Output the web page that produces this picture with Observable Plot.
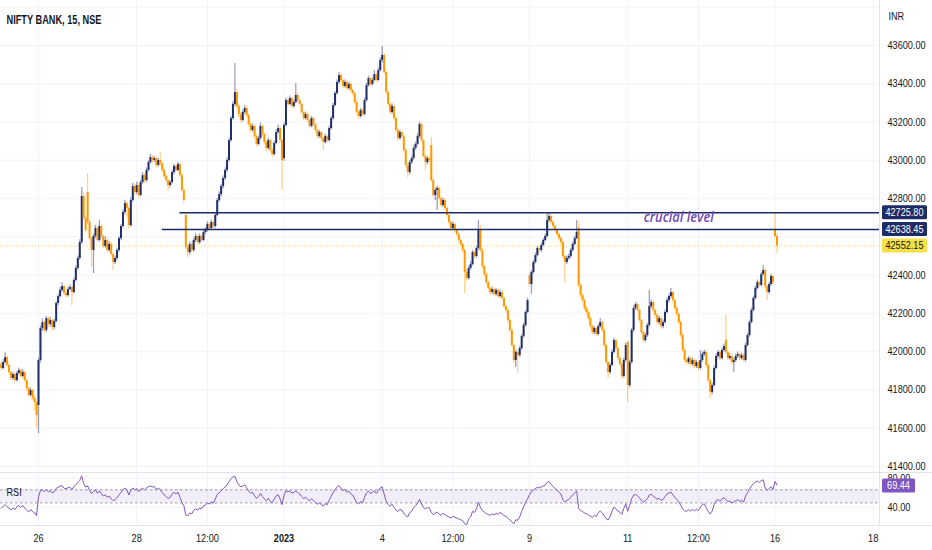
<!DOCTYPE html>
<html><head><meta charset="utf-8">
<script src="https://cdn.jsdelivr.net/npm/d3@7"></script>
<script src="https://cdn.jsdelivr.net/npm/@observablehq/plot@0.6"></script>
<style>
body{margin:0;background:#fff;}
#wrap{width:932px;height:550px;overflow:hidden;background:#fff;}
#wrap svg{display:block;}
</style></head><body><div id="wrap"></div>
<script>
// ---------- data ----------
const title = "NIFTY BANK, 15, NSE";
const currency = "INR";
const firstBar = -19; // bars of 23 Dec before the 26 Dec session
const open = [
41935,41912,41943,41969,41928,41891,41860,41880,41849,41886,41901,41870,41891,41849,41807,41771,41797,41755,41734,
41719,41954,42121,42152,42111,42173,42142,42163,42126,42158,42252,42288,42320,42340,42304,42293,42325,42335,42309,42372,42435,42487,42570,42811,42696,
42832,42675,42591,42529,42602,42644,42581,42654,42602,42550,42581,42529,42560,42508,42466,42487,42529,42591,42654,42727,42774,42748,42659,42790,42863,
42832,42868,42816,42884,42920,42894,42947,42988,43015,42999,43009,42973,42999,42983,42947,42915,42894,42868,42884,42936,42968,42947,42978,42920,42842,
42712,42544,42518,42560,42529,42581,42602,42570,42602,42581,42623,42633,42665,42644,42675,42654,42712,42790,42821,42863,42905,42947,42999,43103,43218,
43292,43354,43281,43239,43208,43250,43271,43234,43187,43156,43177,43124,43083,43114,43177,43135,43093,43062,43103,43051,43030,43088,43145,43166,43103,
43009,43182,43312,43292,43323,43281,43302,43339,43312,43292,43250,43218,43239,43208,43177,43218,43187,43156,43124,43145,43114,43093,43124,43103,43166,
43218,43286,43349,43407,43443,43417,43386,43407,43375,43396,43365,43349,43302,43250,43229,43260,43239,43312,43391,43427,43396,43417,43448,43417,43469,
43522,43548,43459,43354,43292,43250,43281,43218,43156,43114,43145,43124,43051,42973,42936,42988,43009,43062,43083,43124,43187,43103,43020,42988,43009,
43077,42894,42816,42842,42853,42800,42764,42790,42748,42712,42675,42644,42665,42633,42612,42581,42560,42529,42414,42382,42435,42455,42518,42497,42539,
42633,42529,42445,42403,42361,42330,42309,42325,42299,42320,42288,42309,42278,42236,42215,42163,42111,42032,41954,41996,41980,42016,42079,42137,42205,
42398,42351,42414,42466,42502,42539,42529,42555,42581,42602,42686,42706,42675,42654,42633,42612,42591,42570,42497,42466,42487,42497,42529,42560,42591,
42644,42346,42293,42267,42226,42205,42173,42131,42100,42121,42090,42131,42152,42111,42032,41943,41891,41928,41996,42058,42016,41964,41933,41870,41954,
42048,41823,41943,42111,42226,42246,42215,42163,42100,42058,42084,42137,42236,42257,42215,42189,42152,42173,42131,42152,42205,42267,42288,42309,42267,
42226,42194,42152,42084,42006,41954,41943,41964,41933,41954,41922,41943,41912,41954,41985,41996,41928,41849,41787,41823,41912,41975,41996,41964,42006,
42060,41996,41964,41975,41943,41954,41975,41985,41964,41980,41954,42032,42084,42152,42215,42278,42330,42361,42346,42403,42424,42340,42309,42351,42393,
42633,42602];
const close = [
41912,41943,41969,41928,41891,41860,41880,41849,41886,41901,41870,41891,41849,41807,41771,41797,41755,41734,41667,
41954,42121,42152,42111,42173,42142,42163,42126,42158,42252,42288,42320,42340,42304,42293,42325,42335,42309,42372,42435,42487,42570,42811,42696,42633,
42675,42591,42529,42602,42644,42581,42654,42602,42550,42581,42529,42560,42508,42466,42487,42529,42591,42654,42727,42774,42748,42659,42790,42863,42832,
42868,42816,42884,42920,42894,42947,42988,43015,42999,43009,42973,42999,42983,42947,42915,42894,42868,42884,42936,42968,42947,42978,42920,42842,42790,
42544,42518,42560,42529,42581,42602,42570,42602,42581,42623,42633,42665,42644,42675,42654,42712,42790,42821,42863,42905,42947,42999,43103,43218,43292,
43354,43281,43239,43208,43250,43271,43234,43187,43156,43177,43124,43083,43114,43177,43135,43093,43062,43103,43051,43030,43088,43145,43166,43103,42999,
43182,43312,43292,43323,43281,43302,43339,43312,43292,43250,43218,43239,43208,43177,43218,43187,43156,43124,43145,43114,43093,43124,43103,43166,43218,
43286,43349,43407,43443,43417,43386,43407,43375,43396,43365,43349,43302,43250,43229,43260,43239,43312,43391,43427,43396,43417,43448,43417,43469,43522,
43548,43459,43354,43292,43250,43281,43218,43156,43114,43145,43124,43051,42973,42936,42988,43009,43062,43083,43124,43187,43103,43020,42988,43009,42999,
42894,42816,42842,42853,42800,42764,42790,42748,42712,42675,42644,42665,42633,42612,42581,42560,42529,42414,42382,42435,42455,42518,42497,42539,42633,
42529,42445,42403,42361,42330,42309,42325,42299,42320,42288,42309,42278,42236,42215,42163,42111,42032,41954,41996,41980,42016,42079,42137,42205,42267,
42351,42414,42466,42502,42539,42529,42555,42581,42602,42686,42706,42675,42654,42633,42612,42591,42570,42497,42466,42487,42497,42529,42560,42591,42623,
42346,42293,42267,42226,42205,42173,42131,42100,42121,42090,42131,42152,42111,42032,41943,41891,41928,41996,42058,42016,41964,41933,41870,41954,42032,
41823,41943,42111,42226,42246,42215,42163,42100,42058,42084,42137,42236,42257,42215,42189,42152,42173,42131,42152,42205,42267,42288,42309,42267,42226,
42194,42152,42084,42006,41954,41943,41964,41933,41954,41922,41943,41912,41954,41985,41996,41928,41849,41787,41823,41912,41975,41996,41964,42006,42027,
41996,41964,41975,41943,41954,41975,41985,41964,41980,41954,42032,42084,42152,42215,42278,42330,42361,42346,42403,42424,42340,42309,42351,42393,42361,
42602,42552.15];
const high = [
41948,41958,41994,41978,41935,41898,41892,41886,41898,41915,41908,41905,41896,41855,41815,41810,41802,41770,41740,
41965,42135,42170,42160,42185,42180,42178,42170,42170,42262,42300,42335,42360,42350,42315,42338,42348,42342,42385,42448,42500,42585,42858,42830,42705,
42930,42690,42600,42615,42660,42652,42686,42662,42610,42600,42590,42575,42570,42515,42500,42540,42600,42665,42740,42790,42785,42760,42805,42880,42875,
42885,42878,42895,42935,42930,42960,43000,43030,43025,43020,43015,43010,43041,42990,42955,42925,42900,42895,42948,42980,42975,42990,42985,42930,42850,
42722,42555,42572,42570,42592,42615,42610,42615,42610,42635,42648,42678,42672,42688,42682,42725,42800,42835,42875,42918,42960,43012,43115,43230,43305,
43506,43370,43292,43250,43262,43285,43280,43242,43195,43190,43185,43132,43126,43195,43185,43142,43100,43115,43110,43060,43100,43160,43185,43175,43110,
43195,43325,43322,43336,43330,43315,43401,43348,43320,43300,43258,43252,43248,43215,43230,43225,43195,43165,43158,43152,43120,43135,43132,43178,43230,
43298,43360,43420,43459,43452,43425,43420,43415,43408,43404,43372,43356,43310,43258,43272,43268,43325,43402,43440,43435,43430,43469,43455,43482,43535,
43595,43558,43466,43362,43300,43295,43290,43225,43165,43158,43152,43132,43060,42982,43000,43022,43075,43095,43138,43200,43195,43110,43030,43020,43018,
43119,42905,42855,42865,42862,42810,42802,42798,42755,42720,42682,42678,42672,42640,42620,42590,42568,42536,42425,42448,42470,42530,42525,42552,42686,
42659,42538,42452,42410,42370,42338,42338,42332,42332,42328,42322,42318,42285,42245,42222,42170,42120,42040,42008,42005,42028,42090,42148,42215,42280,
42408,42425,42478,42515,42550,42548,42568,42592,42615,42722,42725,42715,42685,42662,42640,42620,42600,42578,42505,42500,42510,42540,42572,42602,42686,
42680,42355,42300,42275,42236,42212,42180,42140,42132,42128,42142,42173,42160,42120,42040,41950,41940,42008,42070,42066,42025,41972,41940,41965,42045,
42058,41955,42122,42238,42258,42255,42222,42170,42108,42096,42148,42320,42270,42265,42222,42198,42185,42180,42165,42218,42278,42300,42330,42315,42275,
42235,42202,42160,42092,42015,41965,41975,41972,41966,41962,41955,41950,42006,41998,42008,42005,41935,41856,41835,41925,41988,42008,42005,42018,42040,
42194,42005,41988,41982,41965,41988,41998,41992,41992,41988,42045,42095,42165,42228,42290,42342,42375,42370,42415,42450,42432,42348,42362,42405,42400,
42725.8,42612];
const low = [
41900,41905,41935,41918,41880,41848,41850,41838,41842,41878,41858,41862,41840,41795,41760,41765,41745,41690,41598,
41572,41940,42105,42098,42100,42125,42130,42110,42115,42150,42240,42280,42310,42290,42280,42285,42318,42240,42300,42365,42425,42478,42560,42685,42620,
42665,42580,42440,42408,42590,42570,42572,42590,42538,42540,42515,42520,42495,42424,42455,42478,42520,42580,42645,42715,42700,42640,42650,42780,42820,
42820,42805,42808,42875,42880,42885,42940,42980,42985,42990,42960,42965,42970,42935,42905,42880,42842,42855,42875,42925,42935,42940,42910,42830,42775,
42535,42492,42505,42515,42520,42570,42558,42560,42570,42575,42612,42625,42632,42635,42642,42645,42705,42780,42810,42850,42895,42938,42990,43095,43210,
43280,43270,43225,43195,43200,43240,43222,43175,43145,43148,43112,43070,43075,43105,43122,43080,43045,43055,43040,43015,43022,43080,43138,43090,42842,
42995,43175,43280,43285,43270,43272,43295,43300,43280,43238,43205,43210,43195,43165,43170,43175,43145,43112,43115,43100,43051,43085,43090,43095,43158,
43210,43278,43340,43398,43405,43375,43378,43362,43368,43352,43338,43290,43238,43215,43220,43226,43232,43305,43382,43385,43388,43410,43405,43410,43460,
43510,43448,43342,43280,43238,43240,43205,43145,43100,43105,43112,43040,42957,42910,42925,42978,43000,43052,43075,43115,43090,43008,42947,42975,42985,
42885,42805,42790,42738,42788,42752,42755,42736,42700,42662,42632,42635,42620,42600,42568,42548,42515,42304,42368,42375,42425,42448,42485,42490,42530,
42518,42432,42390,42348,42318,42295,42298,42285,42290,42275,42280,42265,42224,42202,42150,42098,42020,41940,41917,41886,41970,42008,42070,42128,42198,
42340,42300,42405,42458,42495,42515,42520,42548,42575,42595,42675,42665,42642,42620,42600,42580,42558,42485,42356,42455,42478,42488,42520,42552,42585,
42335,42280,42255,42212,42192,42160,42118,42088,42090,42078,42082,42122,42098,42020,41930,41860,41880,41920,41988,42005,41952,41920,41855,41862,41945,
41734,41812,41935,42100,42215,42202,42150,42088,42045,42048,42075,42128,42225,42202,42175,42140,42140,42118,42120,42145,42198,42255,42278,42255,42212,
42182,42140,42072,41994,41942,41930,41932,41920,41925,41910,41912,41900,41905,41945,41975,41915,41838,41755,41775,41815,41905,41965,41952,41955,41998,
41985,41952,41955,41930,41891,41945,41965,41952,41955,41942,41945,42025,42075,42145,42208,42270,42322,42335,42338,42395,42328,42267,42300,42342,42350,
42595,42513];

const tickBars   = [0, 50, 86, 125, 175, 211, 250, 300, 336, 375, 425];
const tickLabels = ["26","28","12:00","2023","4","12:00","9","11","12:00","16","18"];
const gridPrices = [41400,41600,41800,42000,42200,42400,42600,42800,43000,43200,43400,43600,43800];
const axisPrices = [41400,41600,41800,42000,42200,42400,42800,43000,43200,43400,43600];
const levels = [{price: 42725.80, fromBar: 72}, {price: 42638.45, fromBar: 63}];
const lastPrice = 42552.15;
const note = {text: "crucial level", bar: 326, price: 42700};
const rsiPeriod = 14, rsiSeedGain = 20, rsiSeedLoss = 32;
const rsiBand = {lower: 46, upper: 64};
const rsiTicks = [80, 40];
const rsiLast = 69.44;

// ---------- setup ----------
if (![open, high, low].every(a => a.length === close.length)) {
  throw new Error("length mismatch " + [open.length, high.length, low.length, close.length].join(","));
}
const FONT = '"Liberation Sans",Arial,sans-serif';
const upColor = "#1f2d6b", downColor = "#ff9800", navy = "#1d2b66";
const gridColor = "#f0f3fa", borderColor = "#e0e3eb", ink = "#131722";
const W = 932, axisW = 53;
const xDomain = [-19.35, 428.2];
const priceDomain = [41368.6, 43835.2];
const rsiDomain = [14.8, 87.9];
const labelMap = new Map(tickBars.map((b, i) => [b, tickLabels[i]]));

const bars = close.map((c, i) => ({k: i + firstBar, o: open[i], h: high[i], l: low[i], c, up: c >= open[i]}));

// RSI (Wilder) from closes
const rsiData = [];
{
  let ag = rsiSeedGain, al = rsiSeedLoss;
  for (let i = 0; i < close.length; i++) {
    const ch = i === 0 ? 0 : close[i] - close[i - 1];
    ag = (ag * (rsiPeriod - 1) + Math.max(ch, 0)) / rsiPeriod;
    al = (al * (rsiPeriod - 1) + Math.max(-ch, 0)) / rsiPeriod;
    rsiData.push({k: i + firstBar, v: 100 - 100 / (1 + ag / al)});
  }
}

// ---------- price pane ----------
const pricePlot = Plot.plot({
  width: W, height: 472, marginLeft: 0, marginRight: axisW, marginTop: 0, marginBottom: 0,
  x: {domain: xDomain, axis: null, label: null},
  y: {domain: priceDomain, axis: null, label: null},
  style: {fontFamily: FONT, fontSize: "11px", color: ink, background: "#fff"},
  marks: [
    Plot.gridX(tickBars, {stroke: gridColor, strokeOpacity: 1}),
    Plot.gridY(gridPrices, {stroke: gridColor, strokeOpacity: 1}),
    Plot.ruleY([lastPrice], {stroke: "#f3d33a", strokeDasharray: "1.2,2", strokeWidth: 1}),
    Plot.ruleX(bars, {x: "k", y1: "l", y2: "h", stroke: d => d.up ? upColor : downColor, strokeOpacity: 0.45, strokeWidth: 1.3}),
    Plot.ruleX(bars, {x: "k", y1: d => Math.min(d.o, d.c), y2: d => Math.max(d.o, d.c, Math.min(d.o, d.c) + 5),
      stroke: d => d.up ? upColor : downColor, strokeWidth: 2}),
    Plot.ruleY(levels, {y: "price", x1: "fromBar", x2: xDomain[1], stroke: navy, strokeWidth: 1.6}),
    Plot.text([note], {x: "bar", y: "price", text: "text", fontStyle: "italic", fontSize: 14, fontWeight: 600,
      fill: "#7048b6", fontFamily: '"Open Sans","Liberation Sans",sans-serif'}),
    Plot.text([title], {frameAnchor: "top-left", dx: 6, dy: 15, text: d => d, textAnchor: "start",
      fontWeight: "bold", fontSize: 12.5, fill: ink}),
    Plot.text([currency], {frameAnchor: "top-right", dx: 9, dy: 12, text: d => d, textAnchor: "start", fill: ink}),
    Plot.axisY(axisPrices, {anchor: "right", tickSize: 0, tickPadding: 8, tickFormat: d => d.toFixed(2), fill: ink})
  ]
});

// ---------- RSI pane ----------
const rsiPlot = Plot.plot({
  width: W, height: 78, marginLeft: 0, marginRight: axisW, marginTop: 0, marginBottom: 25,
  x: {domain: xDomain, label: null},
  y: {domain: rsiDomain, axis: null, label: null},
  style: {fontFamily: FONT, fontSize: "11px", color: ink, background: "#fff"},
  marks: [
    Plot.gridX(tickBars, {stroke: gridColor, strokeOpacity: 1}),
    Plot.gridY(rsiTicks, {stroke: gridColor, strokeOpacity: 1}),
    Plot.rect([rsiBand], {x1: xDomain[0], x2: xDomain[1], y1: "lower", y2: "upper", fill: "#7e57c2", fillOpacity: 0.1}),
    Plot.ruleY([rsiBand.upper, rsiBand.lower], {stroke: "#9598a1", strokeDasharray: "2.5,2.5", strokeWidth: 1}),
    Plot.lineY(rsiData, {x: "k", y: "v", stroke: "#7e57c2", strokeWidth: 1}),
    Plot.text(["RSI"], {frameAnchor: "top-left", dx: 6, dy: 16, text: d => d, textAnchor: "start", fill: ink}),
    Plot.axisY(rsiTicks, {anchor: "right", tickSize: 0, tickPadding: 8, tickFormat: d => d.toFixed(2), fill: ink}),
    Plot.axisX(tickBars, {anchor: "bottom", tickSize: 0, tickPadding: 9, tickFormat: d => labelMap.get(d), fontSize: 11, fill: ink})
  ]
});

// ---------- decorations (borders, price tags) ----------
const frameRight = W - axisW;
function border(svg, x1, y1, x2, y2) {
  d3.select(svg).append("line").attr("x1", x1).attr("y1", y1).attr("x2", x2).attr("y2", y2)
    .attr("stroke", borderColor).attr("stroke-width", 1).attr("shape-rendering", "crispEdges");
}
function tag(svg, yPx, txt, bg, fg, w) {
  const g = d3.select(svg).append("g");
  g.append("rect").attr("x", frameRight + 3).attr("y", yPx - 7).attr("width", w).attr("height", 14)
    .attr("rx", 1.5).attr("fill", bg);
  g.append("text").attr("x", frameRight + 3 + w / 2).attr("y", yPx).attr("dy", "0.36em")
    .attr("text-anchor", "middle").attr("fill", fg).attr("font-size", 11).attr("font-family", FONT).text(txt);
}
const py = pricePlot.scale("y");
border(pricePlot, frameRight + 0.5, 0, frameRight + 0.5, 472);
levels.forEach(l => tag(pricePlot, py.apply(l.price), l.price.toFixed(2), navy, "#fff", 45));
tag(pricePlot, py.apply(lastPrice), lastPrice.toFixed(2), "#f7e046", ink, 45);

const ry = rsiPlot.scale("y");
border(rsiPlot, 0, 0.5, W, 0.5);
border(rsiPlot, 0, 53.5, W, 53.5);
border(rsiPlot, frameRight + 0.5, 0, frameRight + 0.5, 53);
tag(rsiPlot, ry.apply(rsiLast), rsiLast.toFixed(2), "#7e57c2", "#fff", 33);
d3.select(rsiPlot).selectAll("text").filter(function () { return this.textContent === "2023"; })
  .attr("font-weight", "bold");

const wrap = document.getElementById("wrap");
wrap.appendChild(pricePlot);
wrap.appendChild(rsiPlot);

// the reference uses a narrow UI font: condense texts horizontally
function fit(el, len) {
  el.setAttribute("textLength", len.toFixed(1));
  el.setAttribute("lengthAdjust", "spacingAndGlyphs");
}
function condense(svg, factor) {
  d3.select(svg).selectAll("text").each(function () {
    const t = this.textContent;
    if (t === note.text) return fit(this, 70);
    if (t === title) return fit(this, 95);
    const n = this.getComputedTextLength();
    if (n > 0) fit(this, n * factor);
  });
}
condense(pricePlot, 0.83);
condense(rsiPlot, 0.83);
</script>
</body></html>
